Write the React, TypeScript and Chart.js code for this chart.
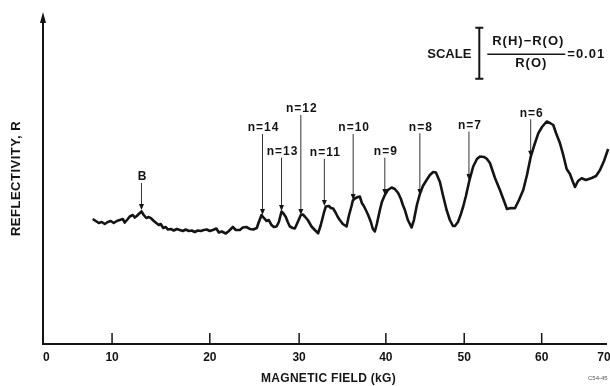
import React, { useEffect, useRef } from 'react';
import { Chart, registerables, LinearScale } from 'chart.js';

// Magnetic field (kG) and relative reflectivity (units of 0.001 in ΔR/R, arbitrary zero)
const fieldKG = [
  7.2, 7.64, 8.07, 8.51, 8.94, 9.38, 9.81, 10.17, 10.48, 10.79, 11.1, 11.3, 11.61, 11.81, 12.12, 12.32, 12.53, 12.73,
  13.01, 13.24, 13.5, 13.76, 14.01, 14.27, 14.52, 14.78, 14.98, 15.24, 15.5, 15.7, 16.01, 16.32, 16.62, 16.93, 17.24,
  17.54, 17.85, 18.16, 18.46, 18.77, 19.08, 19.39, 19.69, 20.0, 20.34, 20.73, 21.01, 21.34, 21.79, 22.13, 22.58, 22.91,
  23.36, 23.7, 24.09, 24.48, 24.87, 25.26, 25.49, 25.79, 26.05, 26.35, 26.61, 26.91, 27.17, 27.47, 27.73, 28.03, 28.29,
  28.51, 28.73, 28.96, 29.29, 29.52, 29.85, 30.2, 30.43, 30.66, 31.0, 31.43, 31.81, 32.19, 32.5, 32.85, 33.08, 33.43,
  33.66, 33.92, 34.23, 34.46, 34.69, 35.04, 35.47, 35.73, 36.04, 36.19, 36.42, 36.77, 37.0, 37.23, 37.46, 37.69, 37.96,
  38.27, 38.5, 38.73, 38.96, 39.31, 39.54, 39.88, 40.26, 40.73, 41.15, 41.57, 41.92, 42.17, 42.43, 42.81, 43.28, 43.58,
  43.96, 44.34, 44.73, 45.2, 45.62, 46.04, 46.39, 46.9, 47.28, 47.75, 48.17, 48.56, 48.81, 49.2, 49.58, 49.87, 50.22,
  50.65, 51.16, 51.64, 52.03, 52.55, 52.89, 53.32, 53.97, 54.61, 55.26, 55.52, 56.03, 56.55, 57.07, 57.62, 58.1, 58.58,
  59.01, 59.56, 60.05, 60.8, 61.33, 61.86, 62.3, 62.94, 63.42, 64.01, 64.54, 65.02, 65.35, 65.83, 66.42, 67.11, 68.03,
  68.72, 69.36, 70.0, 70.69,
];
const reflectivity = [
  24.51, 24.12, 23.73, 23.92, 23.53, 23.92, 24.12, 23.73, 24.12, 24.31, 24.51, 23.82, 24.51, 25.0, 25.29, 24.8, 25.1, 25.49,
  25.98, 25.29, 24.71, 24.9, 24.61, 24.12, 23.73, 23.33, 23.53, 22.75, 22.94, 22.45, 22.55, 22.25, 22.55, 22.35, 22.16,
  22.45, 22.16, 22.25, 21.96, 22.25, 22.16, 22.35, 22.45, 22.16, 22.35, 22.65, 21.86, 22.06, 21.67, 22.16, 22.94, 22.35,
  22.35, 22.84, 22.94, 22.55, 22.45, 22.75, 23.92, 25.29, 24.71, 24.12, 24.31, 23.33, 22.94, 23.04, 23.92, 25.98, 25.49,
  24.9, 23.92, 23.04, 22.75, 22.65, 23.92, 25.29, 25.39, 25.0, 24.31, 23.04, 22.35, 21.71, 23.33, 25.69, 26.96, 27.06,
  26.67, 26.57, 25.69, 24.9, 24.31, 23.53, 23.04, 25.1, 27.06, 28.14, 28.53, 28.82, 28.92, 27.65, 27.06, 26.27, 25.29,
  23.92, 22.55, 22.06, 23.53, 26.27, 27.84, 29.22, 30.2, 30.69, 30.39, 29.61, 28.43, 27.25, 26.27, 24.31, 22.84, 24.31,
  27.25, 29.41, 30.98, 32.16, 33.14, 33.73, 33.63, 31.76, 29.22, 26.27, 24.31, 23.14, 23.14, 23.92, 25.49, 26.96, 29.02,
  31.96, 34.8, 36.27, 36.76, 36.67, 36.37, 35.49, 32.55, 30.2, 27.55, 26.47, 26.67, 26.61, 28.24, 30.2, 33.14, 36.67,
  38.82, 41.31, 42.55, 43.63, 43.33, 42.94, 41.37, 39.35, 37.25, 34.31, 33.33, 31.76, 30.78, 31.96, 32.49, 32.16, 32.55,
  32.94, 34.12, 35.88, 38.24,
];

// Axis tick labels
const tickValues = [0, 10, 20, 30, 40, 50, 60, 70];
const tickLabels = ['0', '10', '20', '30', '40', '50', '60', '70'];

// Calibration of the recorder's (non-uniform) field axis: field value -> fraction of axis length
const fieldKnots = [0, 10, 20, 30, 40, 50, 60, 70, 71];
const fieldFractions = [0, 0.1218, 0.2942, 0.4517, 0.6047, 0.7429, 0.8795, 0.9894, 1];

// Landau-level markers
const markerLabels = ['B', 'n=14', 'n=13', 'n=12', 'n=11', 'n=10', 'n=9', 'n=8', 'n=7', 'n=6'];
const markerFields = [13.01, 25.9, 28.03, 30.2, 32.91, 36.23, 39.88, 44.34, 50.61, 58.58];
const markerTips = [26.27, 25.29, 26.08, 25.29, 27.06, 28.24, 29.22, 29.22, 32.16, 36.73];
const markerLabelLevels = [32.75, 42.35, 37.71, 46.08, 37.51, 42.35, 37.71, 42.49, 42.84, 45.24];

// Scale bar: ΔR/R = 0.01 (=10 units)
const scaleBarBase = 52;
const scaleBarSpan = 10;

function interp(v: number, xs: number[], ys: number[]) {
  if (v <= xs[0]) return ys[0] + ((v - xs[0]) * (ys[1] - ys[0])) / (xs[1] - xs[0]);
  for (let i = 1; i < xs.length; i++) {
    if (v <= xs[i]) {
      return ys[i - 1] + ((v - xs[i - 1]) * (ys[i] - ys[i - 1])) / (xs[i] - xs[i - 1]);
    }
  }
  const n = xs.length - 1;
  return ys[n] + ((v - xs[n]) * (ys[n] - ys[n - 1])) / (xs[n] - xs[n - 1]);
}

class FieldScale extends LinearScale {
  static id = 'fieldScale';
  static defaults = LinearScale.defaults;
  getPixelForValue(value: number) {
    const f = interp(value, fieldKnots, fieldFractions);
    return (this as any).left + f * (this as any).width;
  }
  getValueForPixel(pixel: number) {
    const f = (pixel - (this as any).left) / (this as any).width;
    return interp(f, fieldFractions, fieldKnots);
  }
}

Chart.register(...registerables, FieldScale as any);

const FONT = '"Liberation Sans", Arial, sans-serif';
const INK = '#141414';

const overlay = {
  id: 'overlay',
  afterDraw(chart: any) {
    const { ctx, chartArea: a } = chart;
    const x = chart.scales.x;
    const y = chart.scales.y;
    ctx.save();
    ctx.strokeStyle = INK;
    ctx.fillStyle = INK;

    // axes
    ctx.lineWidth = 2;
    ctx.beginPath();
    ctx.moveTo(a.left, a.top + 6);
    ctx.lineTo(a.left, a.bottom);
    ctx.lineTo(a.right - 3, a.bottom);
    ctx.stroke();
    ctx.beginPath();
    ctx.moveTo(a.left, a.top - 1);
    ctx.lineTo(a.left - 3, a.top + 10);
    ctx.lineTo(a.left + 3, a.top + 10);
    ctx.closePath();
    ctx.fill();

    // ticks and tick labels
    ctx.font = `bold 12px ${FONT}`;
    ctx.textBaseline = 'middle';
    tickValues.forEach((v, i) => {
      const px = x.getPixelForValue(v);
      if (v > 0 && v < 70) {
        ctx.lineWidth = 1.5;
        ctx.beginPath();
        ctx.moveTo(px, a.bottom);
        ctx.lineTo(px, a.bottom - 11);
        ctx.stroke();
      }
      ctx.textAlign = v === 0 ? 'left' : 'center';
      ctx.fillText(tickLabels[i], px, a.bottom + 14);
    });

    // axis titles
    (ctx as any).letterSpacing = '0.3px';
    ctx.textAlign = 'center';
    ctx.font = `bold 12px ${FONT}`;
    ctx.fillText('MAGNETIC FIELD (kG)', (a.left + a.right) / 2 + 2, a.bottom + 35);
    ctx.save();
    ctx.translate(16, (a.top + a.bottom) / 2);
    ctx.rotate(-Math.PI / 2);
    (ctx as any).letterSpacing = '0.5px';
    ctx.font = `bold 13px ${FONT}`;
    ctx.fillText('REFLECTIVITY, R', 0, 0);
    ctx.restore();

    // markers
    ctx.font = `bold 12px ${FONT}`;
    (ctx as any).letterSpacing = '1px';
    markerLabels.forEach((label, i) => {
      const px = x.getPixelForValue(markerFields[i]);
      const tip = y.getPixelForValue(markerTips[i]);
      const ly = y.getPixelForValue(markerLabelLevels[i]);
      ctx.lineWidth = 1;
      ctx.strokeStyle = '#333';
      ctx.beginPath();
      ctx.moveTo(px, ly + 6);
      ctx.lineTo(px, tip - 4);
      ctx.stroke();
      ctx.beginPath();
      ctx.moveTo(px, tip);
      ctx.lineTo(px - 2.5, tip - 6);
      ctx.lineTo(px + 2.5, tip - 6);
      ctx.closePath();
      ctx.fill();
      ctx.textAlign = 'center';
      ctx.fillText(label, px + 1, ly);
    });

    // scale annotation
    ctx.strokeStyle = INK;
    const barX = a.right - 130.7;
    const bTop = y.getPixelForValue(scaleBarBase + scaleBarSpan);
    const bBot = y.getPixelForValue(scaleBarBase);
    const bMid = (bTop + bBot) / 2;
    ctx.lineWidth = 2;
    ctx.beginPath();
    ctx.moveTo(barX, bTop);
    ctx.lineTo(barX, bBot);
    ctx.moveTo(barX - 4, bTop);
    ctx.lineTo(barX + 4, bTop);
    ctx.moveTo(barX - 4, bBot);
    ctx.lineTo(barX + 4, bBot);
    ctx.stroke();
    ctx.font = `bold 13px ${FONT}`;
    (ctx as any).letterSpacing = '0px';
    ctx.textAlign = 'center';
    ctx.fillText('SCALE', barX - 30, bMid + 1);
    (ctx as any).letterSpacing = '1px';
    ctx.fillText('R(H)\u2212R(O)', barX + 49, bMid - 12);
    ctx.fillText('R(O)', barX + 52, bMid + 10);
    ctx.lineWidth = 1.5;
    ctx.beginPath();
    ctx.moveTo(barX + 8, bMid + 1);
    ctx.lineTo(barX + 86, bMid + 1);
    ctx.stroke();
    ctx.textAlign = 'left';
    (ctx as any).letterSpacing = '1px';
    ctx.fillText('=0.01', barX + 88, bMid + 1);

    // figure number
    (ctx as any).letterSpacing = '0px';
    ctx.font = `6px ${FONT}`;
    ctx.fillStyle = '#555';
    ctx.textAlign = 'left';
    ctx.fillText('C54-45', a.right - 22, a.bottom + 34);
    ctx.restore();
  },
};

export default function App() {
  const ref = useRef<HTMLCanvasElement | null>(null);
  useEffect(() => {
    document.body.style.margin = '0';
    const canvas = ref.current;
    if (!canvas) return;
    const chart = new Chart(canvas, {
      type: 'line',
      data: {
        datasets: [
          {
            data: fieldKG.map((f, i) => ({ x: f, y: reflectivity[i] })),
            borderColor: INK,
            borderWidth: 2.6,
            pointRadius: 0,
            tension: 0,
            fill: false,
            borderJoinStyle: 'round',
          } as any,
        ],
      },
      options: {
        responsive: false,
        animation: false,
        events: [],
        layout: { padding: { left: 43, right: 0, top: 13, bottom: 42 } },
        plugins: { legend: { display: false }, tooltip: { enabled: false } },
        scales: {
          x: { type: 'fieldScale' as any, min: 0, max: 71, display: false },
          y: { type: 'linear', min: 0, max: 64.9, display: false },
        },
      },
      plugins: [overlay],
    });
    return () => chart.destroy();
  }, []);
  return (
    <div style={{ width: 610, height: 386, background: '#fff' }}>
      <canvas ref={ref} width={610} height={386} style={{ display: 'block' }} />
    </div>
  );
}
